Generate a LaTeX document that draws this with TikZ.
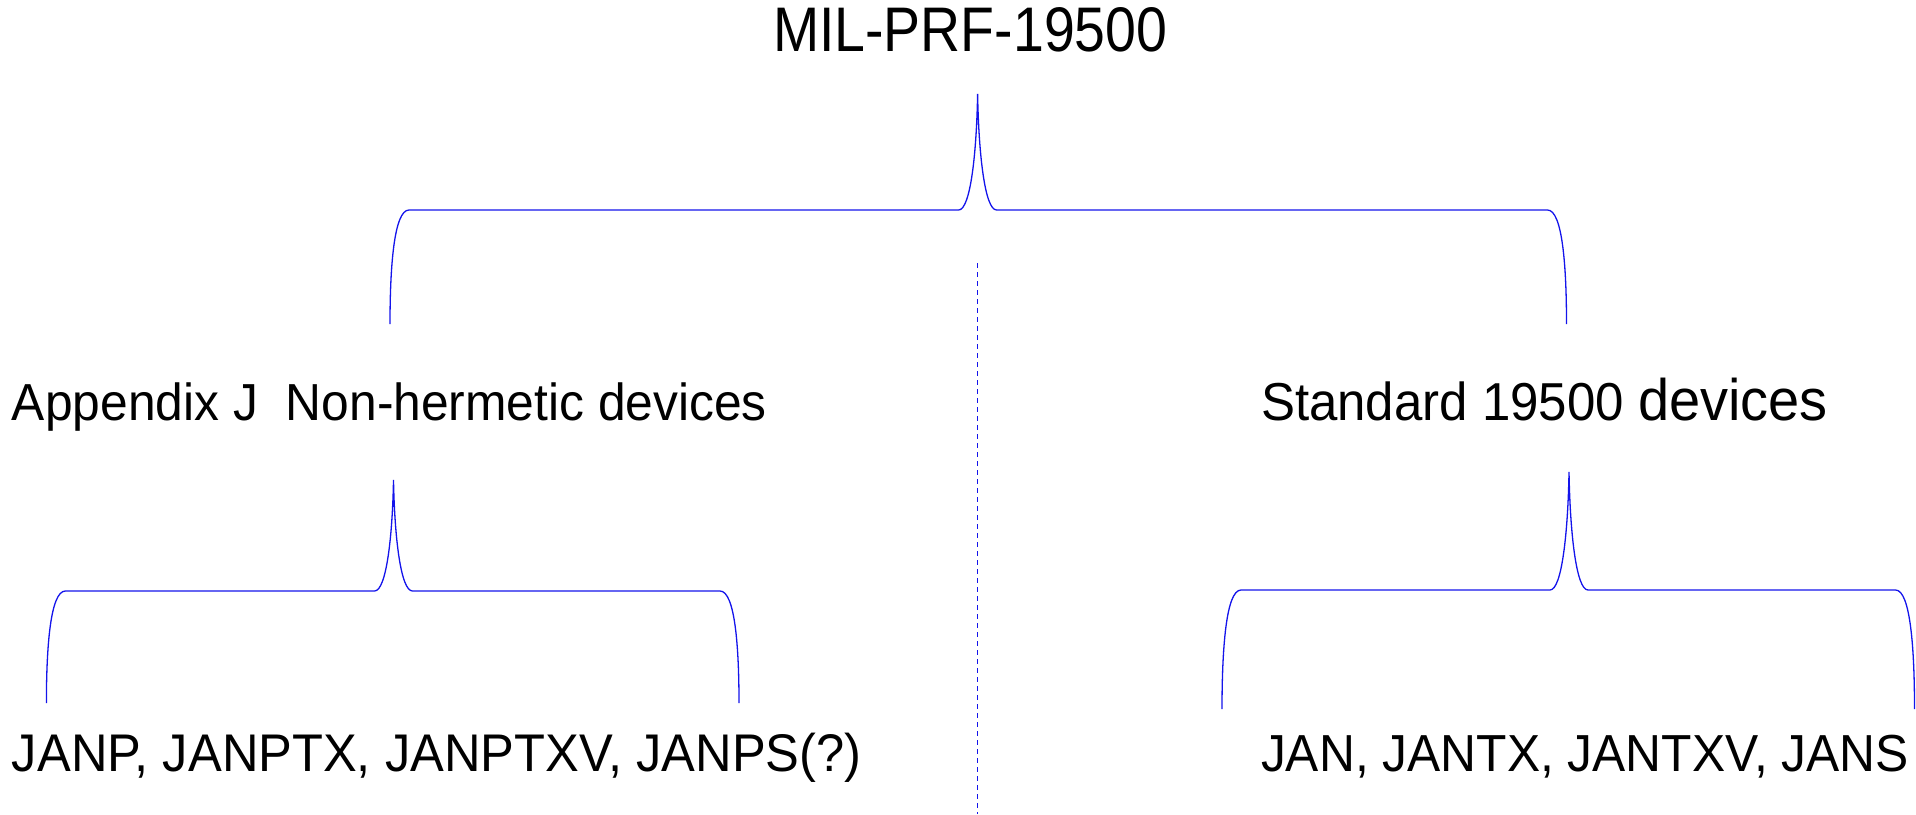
\documentclass[tikz,border=0pt]{standalone}
\usepackage{fontspec}
\setmainfont{Liberation Sans}
\newfontfamily\bodyfont[FakeStretch=0.955]{Liberation Sans}
\newfontfamily\titlefont[FakeStretch=0.88]{Liberation Sans}
\usetikzlibrary{calc}
\definecolor{brc}{RGB}{20,20,235}
\tikzset{
  brace/.style={draw=brc, line width=1.3pt},
  divider/.style={draw=brc, line width=1.1pt, dash pattern=on 5pt off 4pt},
  lbl/.style={anchor=base west, inner sep=0pt, outer sep=0pt},
}
\newcommand\bracedraw[4]{%
  \draw[brace] let \p1=(#1), \p2=(#2), \p3=(#3), \p4=(#4) in
    (\p2) .. controls (\x2,{(\y4+\y2)/2}) and (\x2+4pt,\y4) .. (\x2+19pt,\y4)
    -- (\x1-19pt,\y4) .. controls (\x1-7pt,\y4) and (\x1-1pt,{(\y1+\y4)/2}) .. (\p1)
    .. controls (\x1+1pt,{(\y1+\y4)/2}) and (\x1+7pt,\y4) .. (\x1+19pt,\y4)
    -- (\x3-19pt,\y4) .. controls (\x3-4pt,\y4) and (\x3,{(\y4+\y3)/2}) .. (\p3);
}
\begin{document}
\begin{tikzpicture}[x=1pt,y=-1pt]
\useasboundingbox (0,0) rectangle (1916,814);
% texts
\node[lbl, font=\titlefont\fontsize{63}{70}\selectfont] (root) at (773,51) {MIL-PRF-19500};
\node[lbl, font=\bodyfont\fontsize{52.1}{58}\selectfont] (appj) at (12,420) {Appendix J\ \ Non-hermetic devices};
\node[lbl, font=\bodyfont\fontsize{53.4}{58}\selectfont] (std) at (1261,420) {Standard 19500 \fontsize{58.6}{64}\selectfont devices};
\node[lbl, font=\bodyfont\fontsize{53}{58}\selectfont] (janp) at (12,771) {JANP, JANPTX, JANPTXV, JANPS(?)};
\node[lbl, font=\bodyfont\fontsize{52.1}{58}\selectfont] (jan) at (1261,771) {JAN, JANTX, JANTXV, JANS};
% brace coordinates
\coordinate (t0) at (977.6,94);
\coordinate (h0) at (977.6,210);
\coordinate (l0) at (390,324);
\coordinate (r0) at (1566.5,324);
\coordinate (t1) at (393.5,480);
\coordinate (h1) at (393.5,591);
\coordinate (l1) at (46.4,703);
\coordinate (r1) at (739,703);
\coordinate (t2) at (1569,472);
\coordinate (h2) at (1569,590);
\coordinate (l2) at (1222,709);
\coordinate (r2) at (1914.5,709);
\bracedraw{t0}{l0}{r0}{h0}
\bracedraw{t1}{l1}{r1}{h1}
\bracedraw{t2}{l2}{r2}{h2}
% divider
\coordinate (d0) at (977.6,263);
\coordinate (d1) at (977.6,814);
\draw[divider] (d0) -- (d1);
\end{tikzpicture}
\end{document}
